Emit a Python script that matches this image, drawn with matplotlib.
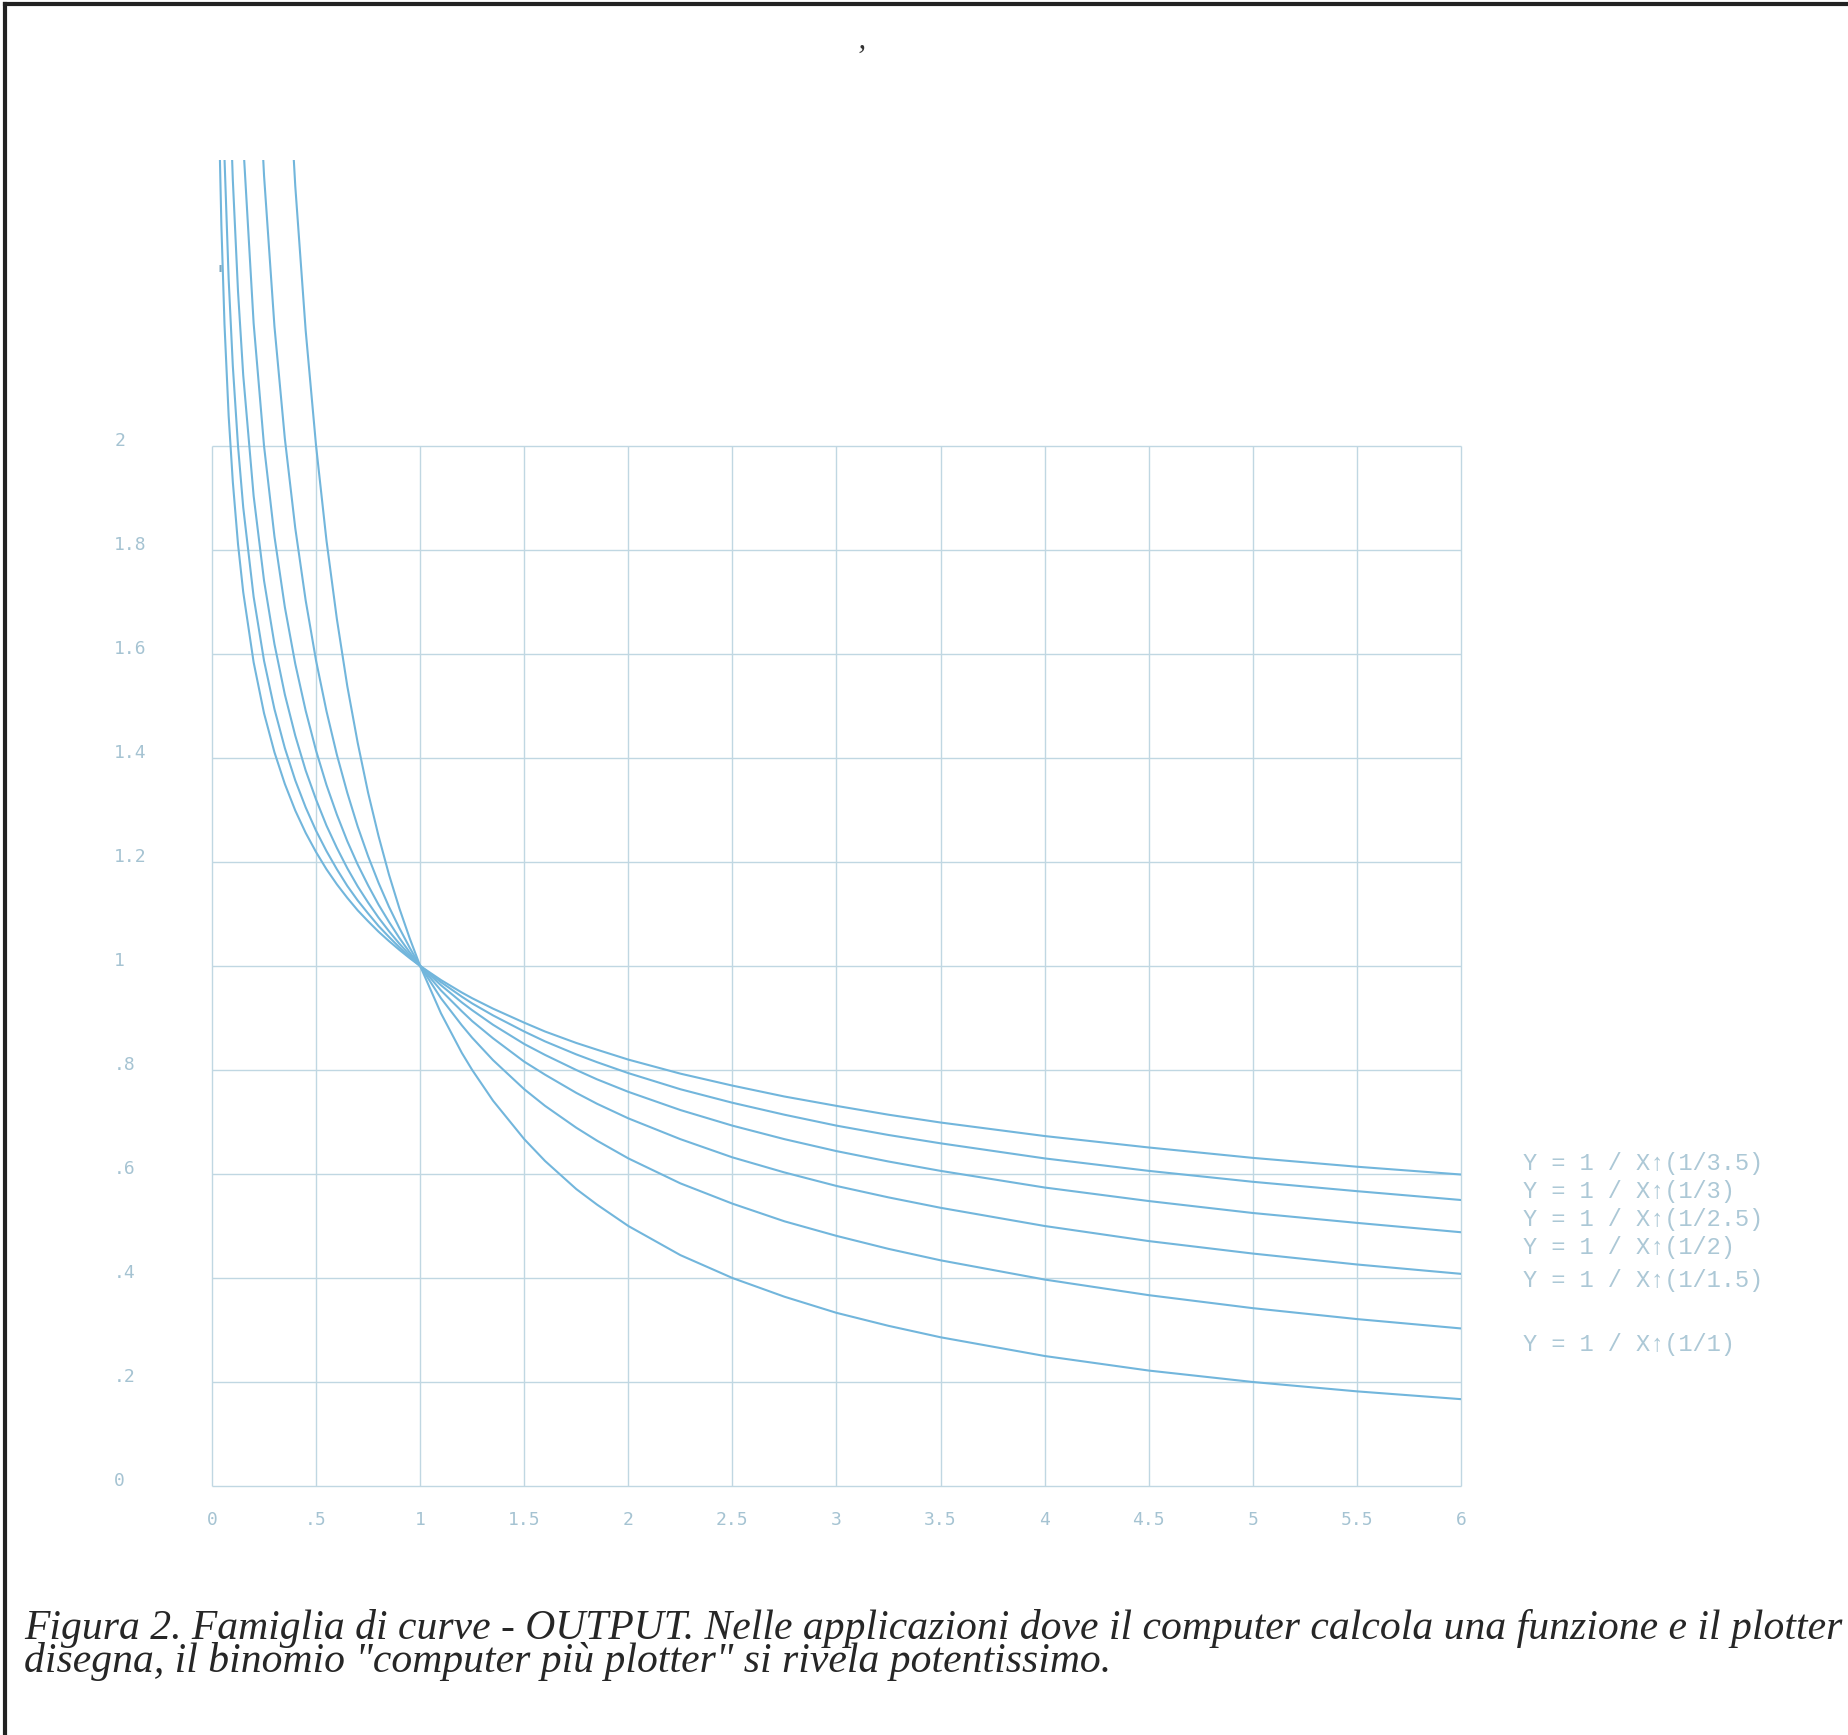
import matplotlib
matplotlib.use("Agg")
import matplotlib.pyplot as plt
from matplotlib.lines import Line2D

# ---------------- data ----------------
x_vals = [0.035, 0.045, 0.06, 0.08, 0.1, 0.125, 0.15, 0.2, 0.25, 0.3, 0.35,
          0.4, 0.45, 0.5, 0.55, 0.6, 0.65, 0.7, 0.75, 0.8, 0.85, 0.9, 0.95, 1.0,
          1.1, 1.2, 1.25, 1.35, 1.5, 1.6, 1.75, 1.85, 2.0, 2.25, 2.5, 2.75, 3.0,
          3.25, 3.5, 4.0, 4.5, 5.0, 5.5, 6.0]

y_n1 = [28.57, 22.22, 16.67, 12.5, 10.0, 8.0, 6.667, 5.0, 4.0, 3.333, 2.857,
        2.5, 2.222, 2.0, 1.818, 1.667, 1.538, 1.429, 1.333, 1.25, 1.176, 1.111, 1.053, 1.0,
        0.909, 0.833, 0.8, 0.741, 0.667, 0.625, 0.571, 0.541, 0.5, 0.444, 0.4, 0.364, 0.333,
        0.308, 0.286, 0.25, 0.222, 0.2, 0.182, 0.167]
y_n15 = [9.35, 7.90, 6.53, 5.39, 4.64, 4.0, 3.54, 2.92, 2.52, 2.23, 2.014,
         1.842, 1.703, 1.587, 1.490, 1.406, 1.333, 1.268, 1.211, 1.160, 1.114, 1.073, 1.035, 1.0,
         0.938, 0.886, 0.862, 0.819, 0.763, 0.731, 0.689, 0.664, 0.630, 0.582, 0.543, 0.509, 0.481,
         0.456, 0.434, 0.397, 0.367, 0.342, 0.321, 0.303]
y_n2 = [5.345, 4.714, 4.082, 3.536, 3.162, 2.828, 2.582, 2.236, 2.0, 1.826, 1.690,
        1.581, 1.491, 1.414, 1.348, 1.291, 1.240, 1.195, 1.155, 1.118, 1.085, 1.054, 1.026, 1.0,
        0.953, 0.913, 0.894, 0.861, 0.816, 0.791, 0.756, 0.735, 0.707, 0.667, 0.632, 0.603, 0.577,
        0.555, 0.535, 0.5, 0.471, 0.447, 0.426, 0.408]
y_n25 = [3.823, 3.457, 3.081, 2.746, 2.512, 2.297, 2.136, 1.904, 1.741, 1.619, 1.522,
         1.443, 1.376, 1.320, 1.270, 1.227, 1.188, 1.153, 1.122, 1.093, 1.067, 1.043, 1.021, 1.0,
         0.963, 0.930, 0.915, 0.887, 0.850, 0.829, 0.800, 0.782, 0.758, 0.723, 0.693, 0.667, 0.644,
         0.624, 0.606, 0.574, 0.548, 0.525, 0.506, 0.488]
y_n3 = [3.057, 2.811, 2.554, 2.321, 2.154, 2.0, 1.882, 1.710, 1.587, 1.494, 1.419,
        1.357, 1.305, 1.260, 1.221, 1.186, 1.154, 1.126, 1.101, 1.077, 1.056, 1.036, 1.017, 1.0,
        0.969, 0.941, 0.928, 0.905, 0.874, 0.855, 0.830, 0.815, 0.794, 0.763, 0.737, 0.714, 0.693,
        0.675, 0.659, 0.630, 0.606, 0.585, 0.567, 0.550]
y_n35 = [2.606, 2.425, 2.234, 2.058, 1.931, 1.811, 1.719, 1.584, 1.486, 1.411, 1.350,
         1.299, 1.256, 1.219, 1.186, 1.157, 1.131, 1.107, 1.086, 1.066, 1.048, 1.031, 1.015, 1.0,
         0.973, 0.949, 0.938, 0.918, 0.891, 0.874, 0.852, 0.839, 0.820, 0.793, 0.770, 0.749, 0.731,
         0.714, 0.699, 0.673, 0.651, 0.631, 0.614, 0.599]

series = [y_n35, y_n3, y_n25, y_n2, y_n15, y_n1]
series_labels = ["Y = 1 / X\u2191(1/3.5)", "Y = 1 / X\u2191(1/3)", "Y = 1 / X\u2191(1/2.5)",
                 "Y = 1 / X\u2191(1/2)", "Y = 1 / X\u2191(1/1.5)", "Y = 1 / X\u2191(1/1)"]

x_ticks = [0, 0.5, 1, 1.5, 2, 2.5, 3, 3.5, 4, 4.5, 5, 5.5, 6]
x_tick_labels = ["0", ".5", "1", "1.5", "2", "2.5", "3", "3.5", "4", "4.5", "5", "5.5", "6"]
y_ticks = [0, 0.2, 0.4, 0.6, 0.8, 1.0, 1.2, 1.4, 1.6, 1.8, 2.0]
y_tick_labels = ["0", ".2", ".4", ".6", ".8", "1", "1.2", "1.4", "1.6", "1.8", "2"]

caption = ("Figura 2. Famiglia di curve - OUTPUT. Nelle applicazioni dove il computer "
           "calcola una funzione e il plotter\n"
           "disegna, il binomio \"computer più plotter\" si rivela potentissimo.")

# ---------------- layout ----------------
W, H = 1848, 1735
x0_px, x6_px = 212, 1461          # pixel columns of x = 0 and x = 6
y0_px, ppu = 1486, 520            # pixel row of y = 0, pixels per y unit
ytop = 2.55                       # curves are cut off here by the plotter
label_rows_px = [1163, 1191, 1219, 1247, 1280, 1344]   # text rows of the right-hand labels

fig = plt.figure(figsize=(W / 100, H / 100), dpi=100)
fig.patch.set_facecolor("white")

top_px = y0_px - ytop * ppu
ax = fig.add_axes([x0_px / W, 1 - y0_px / H, (x6_px - x0_px) / W, (y0_px - top_px) / H])
ax.set_xlim(0, 6)
ax.set_ylim(0, ytop)
ax.set_axis_off()

grid_c = "#c0d7e2"
ax.vlines(x_ticks, 0, 2.0, colors=grid_c, linewidth=1.0, clip_on=False, zorder=1)
ax.hlines(y_ticks, 0, 6, colors=grid_c, linewidth=1.0, clip_on=False, zorder=1)

curve_c = "#72b6dc"
for ys in series:
    ax.plot(x_vals, ys, color=curve_c, linewidth=1.5, zorder=3,
            solid_joinstyle="round", solid_capstyle="round")

lab_c = "#a5c3d2"
mono = ["DejaVu Sans Mono"]
for xv, t in zip(x_ticks, x_tick_labels):
    ax.text(xv, -0.065, t, ha="center", va="center", fontsize=13, color=lab_c,
            family=mono, clip_on=False)
for yv, t in zip(y_ticks, y_tick_labels):
    ax.text(-0.47, yv, t, ha="left", va="baseline", fontsize=13, color=lab_c,
            family=mono, clip_on=False)

to_data_y = lambda py: (y0_px - py) / ppu
for row, t in zip(label_rows_px, series_labels):
    ax.text(6.30, to_data_y(row), t, ha="left", va="center", fontsize=17, color="#acc8d6",
            family=["Liberation Mono", "DejaVu Sans Mono"], clip_on=False)

# small plotter mark near the top of the y axis
ax.text(0.04, to_data_y(276), "'", ha="center", va="center", fontsize=18, color="#7fa9c0",
        family="DejaVu Sans Mono", clip_on=False)

# frame of the printed figure
fig.add_artist(Line2D([5 / W, 5 / W], [0, 1 - 4 / H], color="#222222", linewidth=3,
                      transform=fig.transFigure))
fig.add_artist(Line2D([5 / W, 1], [1 - 4 / H, 1 - 4 / H], color="#222222", linewidth=3,
                      transform=fig.transFigure))
fig.text(860 / W, 1 - 58 / H, "\u2019", fontsize=22, color="#333333", ha="center",
         va="center", family="Liberation Serif", style="italic")

# caption (two lines, tight leading as printed)
fig.text(24 / W, 1 - 1672 / H, caption, fontsize=30, color="#262626",
         family="Liberation Serif", style="italic", ha="left", va="baseline",
         linespacing=0.8)

fig.savefig("out.png", dpi=100, facecolor="white")
